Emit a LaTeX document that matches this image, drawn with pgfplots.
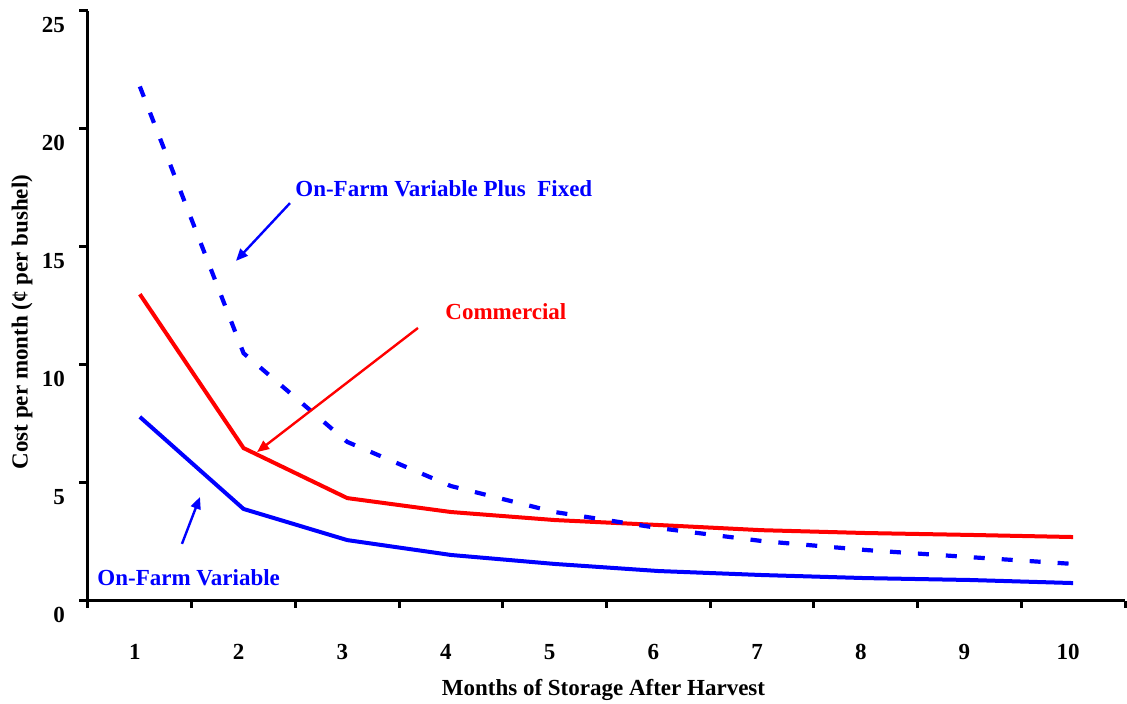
\documentclass[border=0pt]{standalone}
\usepackage{fontspec}
\setmainfont{Liberation Serif}
\usepackage{pgfplots}
\pgfplotsset{compat=1.18}
\usetikzlibrary{arrows.meta}

\begin{document}
\begin{tikzpicture}[font=\fontsize{11.5}{13.5}\selectfont\bfseries]
\begin{axis}[
  name=ax, scale only axis, width=518.5pt, height=295pt,
  xmin=0.5, xmax=10.5, ymin=0, ymax=25,
  axis x line=bottom, axis y line=left,
  axis line style={-, line width=1.5pt},
  tick align=outside,
  xtick={1,...,10}, major x tick style={draw=none},
  minor xtick={0.5,1.5,...,10.5}, minor tick length=3.5pt,
  minor x tick style={line width=1.5pt, black},
  ytick={0,5,...,25}, major tick length=4.5pt,
  major y tick style={line width=1.5pt, black},
  /pgf/number format/assume math mode=true,
  ticklabel style={font=\fontsize{11.5}{13.5}\selectfont\bfseries},
  yticklabel style={xshift=-3.5pt, yshift=-7pt},
  xticklabel style={xshift=-2.5pt, yshift=-13.5pt},
  clip=false,
]
\addplot[blue, line width=2pt] coordinates {
(1,7.8) (2,3.9) (3,2.58) (4,1.95) (5,1.57) (6,1.27) (7,1.10) (8,0.97) (9,0.89) (10,0.76)
};
\addplot[red, line width=2pt] coordinates {
(1,13.0) (2,6.48) (3,4.36) (4,3.77) (5,3.43) (6,3.22) (7,3.0) (8,2.88) (9,2.8) (10,2.71)
};
\addplot[blue, line width=2.1pt, dash pattern=on 5.5pt off 8.5pt] coordinates {
(1,21.8) (2,10.5) (3,6.74) (4,4.87) (5,3.77) (6,3.09) (7,2.54) (8,2.16) (9,1.86) (10,1.57)
};
\node[blue, anchor=west, inner sep=0pt] at (axis cs:2.496,17.46) {On-Farm Variable Plus\ \ Fixed};
\draw[blue, line width=1.2pt, -{Triangle[length=6pt,width=5pt]}] (axis cs:2.448,16.86) -- (axis cs:1.927,14.41);
\node[red, anchor=west, inner sep=0pt] at (axis cs:3.943,12.25) {Commercial};
\draw[red, line width=1.2pt, -{Triangle[length=6pt,width=5pt]}] (axis cs:3.682,11.57) -- (axis cs:2.130,6.31);
\node[blue, anchor=west, inner sep=0pt] at (axis cs:0.587,0.97) {On-Farm Variable};
\draw[blue, line width=1.2pt, -{Triangle[length=6pt,width=5pt]}] (axis cs:1.406,2.42) -- (axis cs:1.580,4.41);
\end{axis}
\node[rotate=90] at ([xshift=-33pt, yshift=-8pt]ax.west) {Cost per month (¢ per bushel)};
\node at ([xshift=-1.5pt, yshift=-44.5pt]ax.south) {Months of Storage After Harvest};
\pgfresetboundingbox
\path[use as bounding box] ([xshift=-44pt,yshift=-51.5pt]ax.south west) rectangle ([xshift=1pt,yshift=5.5pt]ax.north east);
\end{tikzpicture}
\end{document}
